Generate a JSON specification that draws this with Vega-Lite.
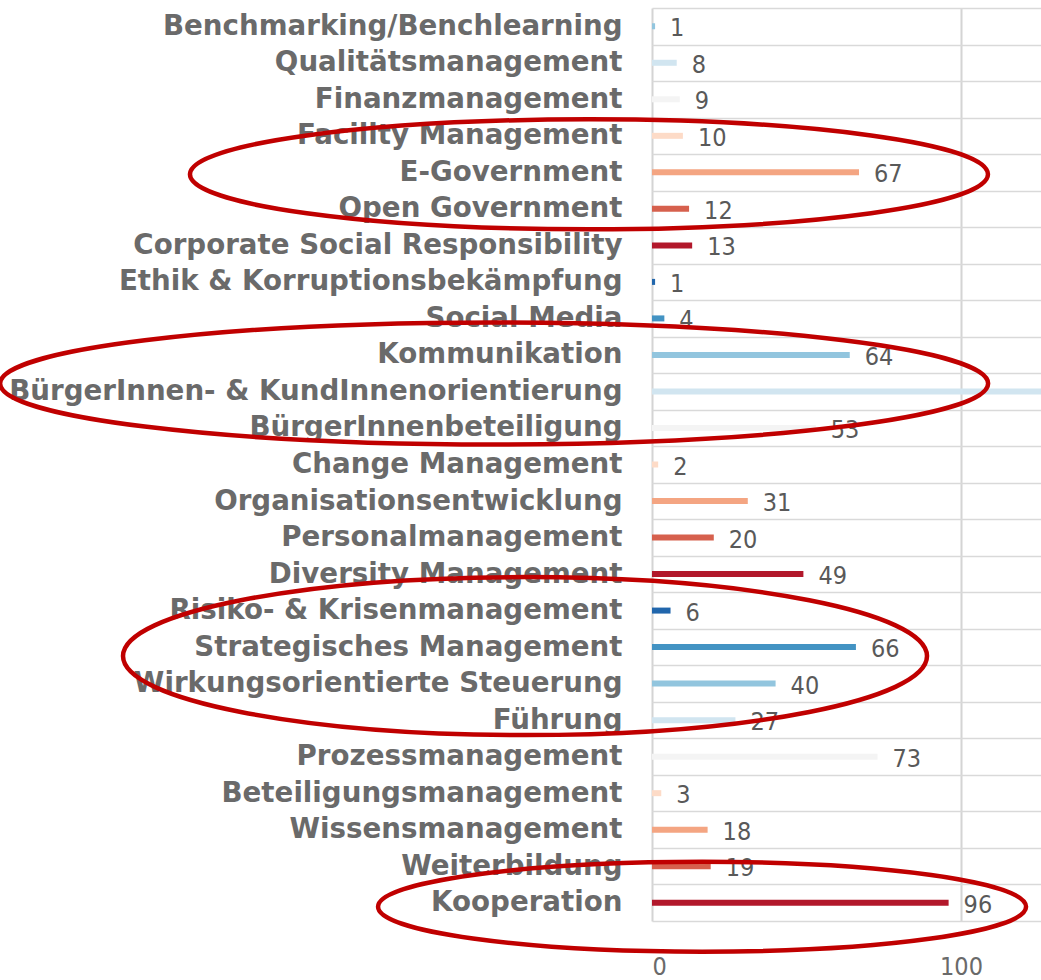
{
  "$schema": "https://vega.github.io/schema/vega-lite/v6.json",
  "autosize": "none",
  "width": 389,
  "height": 913,
  "padding": {"left": 652, "top": 8, "right": 0, "bottom": 59},
  "background": "white",
  "config": {"view": {"stroke": null}},
  "datasets": {
    "bars": [
      {"Bereich": "Benchmarking/Benchlearning", "Anzahl": 1},
      {"Bereich": "Qualitätsmanagement", "Anzahl": 8},
      {"Bereich": "Finanzmanagement", "Anzahl": 9},
      {"Bereich": "Facility Management", "Anzahl": 10},
      {"Bereich": "E-Government", "Anzahl": 67},
      {"Bereich": "Open Government", "Anzahl": 12},
      {"Bereich": "Corporate Social Responsibility", "Anzahl": 13},
      {"Bereich": "Ethik & Korruptionsbekämpfung", "Anzahl": 1},
      {"Bereich": "Social Media", "Anzahl": 4},
      {"Bereich": "Kommunikation", "Anzahl": 64},
      {"Bereich": "BürgerInnen- & KundInnenorientierung", "Anzahl": 140},
      {"Bereich": "BürgerInnenbeteiligung", "Anzahl": 53},
      {"Bereich": "Change Management", "Anzahl": 2},
      {"Bereich": "Organisationsentwicklung", "Anzahl": 31},
      {"Bereich": "Personalmanagement", "Anzahl": 20},
      {"Bereich": "Diversity Management", "Anzahl": 49},
      {"Bereich": "Risiko- & Krisenmanagement", "Anzahl": 6},
      {"Bereich": "Strategisches Management", "Anzahl": 66},
      {"Bereich": "Wirkungsorientierte Steuerung", "Anzahl": 40},
      {"Bereich": "Führung", "Anzahl": 27},
      {"Bereich": "Prozessmanagement", "Anzahl": 73},
      {"Bereich": "Beteiligungsmanagement", "Anzahl": 3},
      {"Bereich": "Wissensmanagement", "Anzahl": 18},
      {"Bereich": "Weiterbildung", "Anzahl": 19},
      {"Bereich": "Kooperation", "Anzahl": 96}
    ],
    "markierungen": [
      {"id": "e1", "Bereich": "E-Government", "Anzahl": -20.4},
      {"id": "e2", "Bereich": "BürgerInnen- & KundInnenorientierung", "Anzahl": -51.1},
      {"id": "e3", "Bereich": "Strategisches Management", "Anzahl": -41.1},
      {"id": "e4", "Bereich": "Kooperation", "Anzahl": 16.2}
    ]
  },
  "encoding": {
    "y": {
      "field": "Bereich",
      "type": "nominal",
      "sort": null,
      "scale": {
        "domain": ["Benchmarking/Benchlearning", "Qualitätsmanagement", "Finanzmanagement", "Facility Management", "E-Government", "Open Government", "Corporate Social Responsibility", "Ethik & Korruptionsbekämpfung", "Social Media", "Kommunikation", "BürgerInnen- & KundInnenorientierung", "BürgerInnenbeteiligung", "Change Management", "Organisationsentwicklung", "Personalmanagement", "Diversity Management", "Risiko- & Krisenmanagement", "Strategisches Management", "Wirkungsorientierte Steuerung", "Führung", "Prozessmanagement", "Beteiligungsmanagement", "Wissensmanagement", "Weiterbildung", "Kooperation"],
        "paddingInner": 0,
        "paddingOuter": 0
      },
      "axis": {
        "title": null,
        "domain": false,
        "ticks": false,
        "labelPadding": 30,
        "labelFont": "DejaVu Sans",
        "labelFontWeight": "bold",
        "labelFontSize": 27.7,
        "labelColor": "#6a6a6a",
        "labelLimit": 0,
        "grid": true,
        "tickBand": "extent",
        "gridColor": "#d9d9d9",
        "gridWidth": 1.5
      }
    },
    "x": {
      "field": "Anzahl",
      "type": "quantitative",
      "scale": {"domain": [0, 125.9], "nice": false, "zero": false},
      "axis": {
        "title": null,
        "values": [0, 100],
        "domain": false,
        "ticks": false,
        "labelBaseline": "middle",
        "labelPadding": 45,
        "labelFont": "DejaVu Sans Condensed",
        "labelFontSize": 25,
        "labelColor": "#6a6a6a",
        "grid": true,
        "gridColor": "#d4d4d4",
        "gridWidth": 2
      }
    }
  },
  "layer": [
    {
      "data": {"name": "bars"},
      "mark": {"type": "bar", "size": 6, "clip": true},
      "encoding": {
        "color": {
          "field": "Bereich",
          "type": "nominal",
          "legend": null,
          "scale": {
            "domain": ["Benchmarking/Benchlearning", "Qualitätsmanagement", "Finanzmanagement", "Facility Management", "E-Government", "Open Government", "Corporate Social Responsibility", "Ethik & Korruptionsbekämpfung", "Social Media", "Kommunikation", "BürgerInnen- & KundInnenorientierung", "BürgerInnenbeteiligung", "Change Management", "Organisationsentwicklung", "Personalmanagement", "Diversity Management", "Risiko- & Krisenmanagement", "Strategisches Management", "Wirkungsorientierte Steuerung", "Führung", "Prozessmanagement", "Beteiligungsmanagement", "Wissensmanagement", "Weiterbildung", "Kooperation"],
            "range": ["#92c5de", "#d1e5f0", "#f4f4f4", "#fddbc7", "#f4a582", "#d6604d", "#b2182b", "#2166ac", "#4393c3", "#92c5de", "#d1e5f0", "#f4f4f4", "#fddbc7", "#f4a582", "#d6604d", "#b2182b", "#2166ac", "#4393c3", "#92c5de", "#d1e5f0", "#f4f4f4", "#fddbc7", "#f4a582", "#d6604d", "#b2182b"]
          }
        }
      }
    },
    {
      "data": {"name": "bars"},
      "transform": [{"filter": "datum.Anzahl < 120"}],
      "mark": {"type": "text", "align": "left", "baseline": "middle", "dx": 15, "dy": 2, "font": "DejaVu Sans Condensed", "fontSize": 25, "fill": "#595959"},
      "encoding": {
        "text": {"field": "Anzahl", "type": "quantitative"}
      }
    },
    {
      "data": {"name": "markierungen"},
      "mark": {"type": "point", "filled": false, "size": 4, "stroke": "#c00000", "strokeWidth": 4.5, "opacity": 1},
      "encoding": {
        "shape": {
          "field": "id",
          "type": "nominal",
          "legend": null,
          "scale": {
            "domain": ["e1", "e2", "e3", "e4"],
            "range": [
              "M-399,2A399,55 0 1,1 399,2A399,55 0 1,1 -399,2Z",
              "M-494,-8A494,61 0 1,1 494,-8A494,61 0 1,1 -494,-8Z",
              "M-402,9A402,79 0 1,1 402,9A402,79 0 1,1 -402,9Z",
              "M-324,4A324,45 0 1,1 324,4A324,45 0 1,1 -324,4Z"
            ]
          }
        }
      }
    }
  ]
}
